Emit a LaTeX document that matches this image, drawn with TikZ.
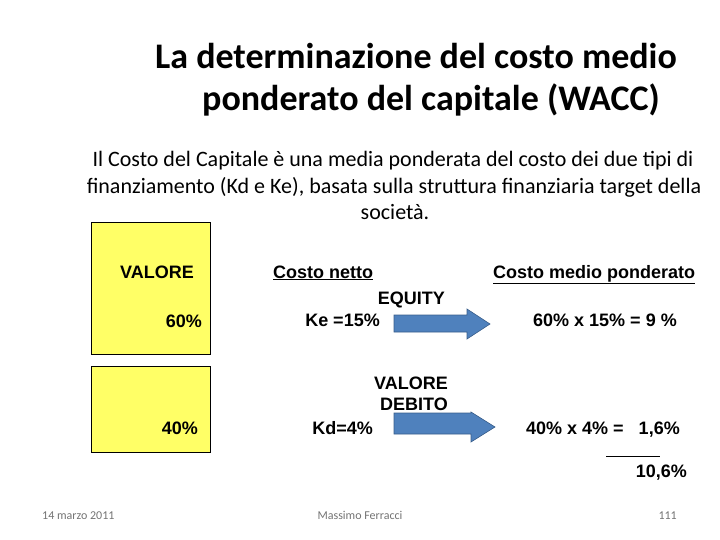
\documentclass[tikz,border=0pt]{standalone}
\usepackage{fontspec}
\setmainfont{Carlito}
\newfontfamily\arial{Liberation Sans}
\definecolor{boxyellow}{RGB}{255,255,102}
\definecolor{arrowblue}{RGB}{79,129,189}
\definecolor{arrowedge}{RGB}{56,93,138}
\begin{document}
\begin{tikzpicture}[x=1pt,y=-1pt,
  box/.style={draw=black, line width=0.6pt, fill=boxyellow},
  lbl/.style={font=\arial\bfseries\fontsize{18}{21}\selectfont, inner sep=0pt},
  ttl/.style={font=\bfseries\fontsize{36}{42}\selectfont, inner sep=0pt},
  body/.style={font=\fontsize{22}{26}\selectfont, inner sep=0pt},
  foot/.style={font=\fontsize{12}{14}\selectfont, text=gray!90!black, inner sep=0pt},
  blockarrow/.style={fill=arrowblue, draw=arrowedge, line width=0.6pt}]
\useasboundingbox (0,0) rectangle (720,540);
% title
\node[ttl, anchor=base] (t1) at (416,69) {La determinazione del costo medio};
\node[ttl, anchor=base] (t2) at (431,111) {ponderato del capitale (WACC)};
% body
\node[body, anchor=base] (b1) at (393,167) {Il Costo del Capitale è una media ponderata del costo dei due tipi di};
\node[body, anchor=base] (b2) at (394,194) {finanziamento (Kd e Ke), basata sulla struttura finanziaria target della};
\node[body, anchor=base] (b3) at (395,220) {società.};
% boxes
\draw[box] (91,222) rectangle (210,354);
\draw[box] (91,366) rectangle (210,452);
\node[lbl, anchor=base west] (val) at (120,278) {VALORE};
\node[lbl, anchor=base east] (p60) at (202,327) {60\%};
\node[lbl, anchor=base east] (p40) at (198,434) {40\%};
% middle
\node[lbl, anchor=base west] (cn) at (273,278) {\underline{Costo netto}};
\node[lbl, anchor=base east] (eq) at (445,304) {EQUITY};
\node[lbl, anchor=base east] (ke) at (380,326) {Ke =15\%};
\node[lbl, anchor=base east] (vd1) at (448,389) {VALORE};
\node[lbl, anchor=base east] (vd2) at (448,410) {DEBITO};
\node[lbl, anchor=base east] (kd) at (373,434) {Kd=4\%};
% arrows
\draw[blockarrow] (394,315) -- (467,315) -- (467,309) -- (490,324) -- (467,339) -- (467,332) -- (394,332) -- cycle;
\draw[blockarrow] (394,413) -- (471,413) -- (471,412) -- (495,427) -- (471,442) -- (471,434) -- (394,434) -- cycle;
% right
\node[lbl, anchor=base west] (cmp) at (493,278) {\underline{Costo medio ponderato}};
\node[lbl, anchor=base west] (r1) at (533,326) {60\% x 15\% = 9 \%};
\node[lbl, anchor=base west] (r2) at (526,434) {40\% x 4\% = \ \ 1,6\%};
\draw[line width=0.6pt] (606,456) -- (660,456);
\node[lbl, anchor=base east] (tot) at (687,477) {10,6\%};
% footer
\node[foot, anchor=base west] (f1) at (42,519) {14 marzo 2011};
\node[foot, anchor=base] (f2) at (360,519) {Massimo Ferracci};
\node[foot, anchor=base east] (f3) at (677,519) {111};
\end{tikzpicture}
\end{document}
